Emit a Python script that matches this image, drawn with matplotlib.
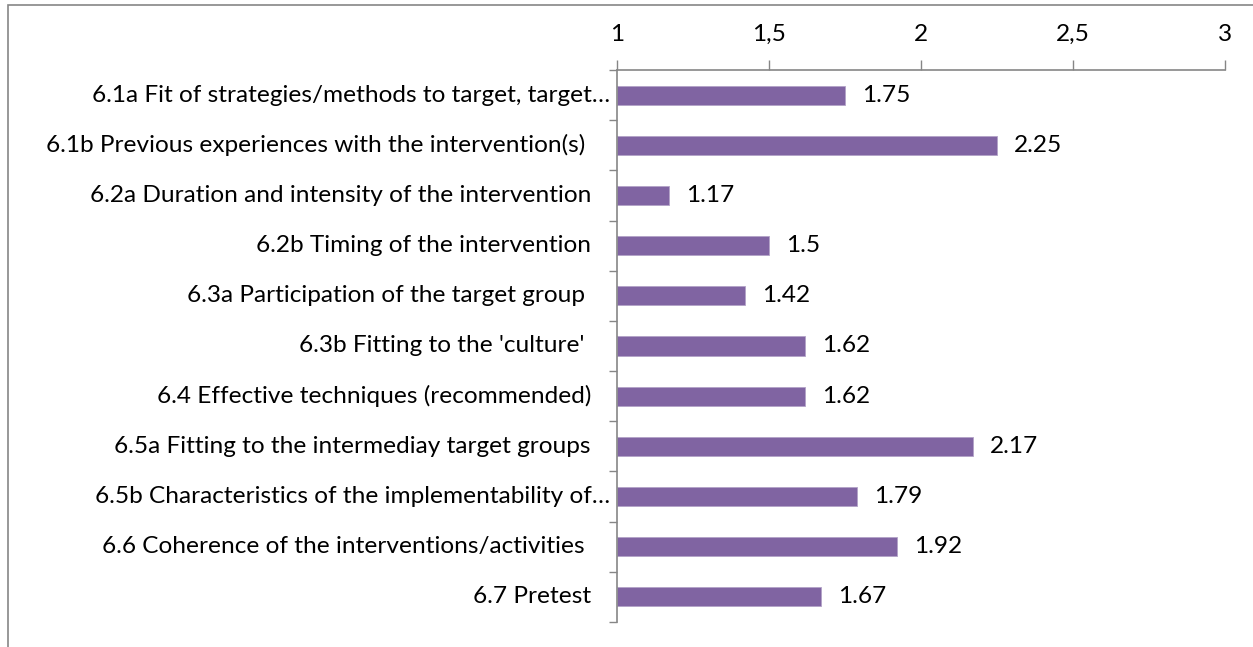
import matplotlib
matplotlib.use("Agg")
import matplotlib.pyplot as plt
from matplotlib.patches import Rectangle
from matplotlib.transforms import offset_copy

# data
categories = [
    "6.1a Fit of strategies/methods to target, target\u2026",
    "6.1b Previous experiences with the intervention(s) ",
    "6.2a Duration and intensity of the intervention",
    "6.2b Timing of the intervention",
    "6.3a Participation of the target group ",
    "6.3b Fitting to the 'culture' ",
    "6.4 Effective techniques (recommended)",
    "6.5a Fitting to the intermediay target groups",
    "6.5b Characteristics of the implementability of\u2026",
    "6.6 Coherence of the interventions/activities ",
    "6.7 Pretest",
]
scores = [1.75, 2.25, 1.17, 1.5, 1.42, 1.62, 1.62, 2.17, 1.79, 1.92, 1.67]
xticks = [1, 1.5, 2, 2.5, 3]
xtick_labels = ["1", "1,5", "2", "2,5", "3"]

W, H = 1253, 647
plt.rcParams['font.family'] = ['Lato', 'DejaVu Sans']
FS = 17.6
BAR = "#8064A2"
GRAY = "#868686"

fig = plt.figure(figsize=(W / 100, H / 100), dpi=100)
fig.patch.set_facecolor("white")

# outer chart frame (runs off the right and bottom edge)
fig.patches.append(Rectangle((8 / W, -0.1), 1.2, 1 - 5 / H + 0.1, transform=fig.transFigure,
                             fill=False, edgecolor=GRAY, linewidth=1.2))

ax = fig.add_axes([617 / W, 1 - 622 / H, (1225 - 617) / W, (622 - 70) / H])

n = len(categories)
ypos = list(range(n))
ax.barh(ypos, [s - 1 for s in scores], left=1, height=0.38, color=BAR, edgecolor="#B3A2C7", linewidth=0.6)
ax.set_xlim(1, 3)
ax.set_ylim(n - 0.5, -0.5)

ax.xaxis.tick_top()
ax.set_xticks(xticks)
ax.set_xticklabels(xtick_labels, fontsize=FS)
ax.tick_params(axis="x", direction="out", length=7, width=1, color=GRAY, pad=11)

ax.set_yticks([i - 0.5 for i in range(n + 1)])
ax.set_yticklabels([])
ax.tick_params(axis="y", direction="out", length=6, width=1, color=GRAY)

for side in ["right", "bottom"]:
    ax.spines[side].set_visible(False)
for side in ["left", "top"]:
    ax.spines[side].set_color(GRAY)
    ax.spines[side].set_linewidth(1.2)

# category labels
for i, lab in enumerate(categories):
    off = -7 if lab.endswith("\u2026") else -26
    tr = offset_copy(ax.transData, fig=fig, x=off * 0.72, y=0, units="points")
    ax.text(1, i, lab, transform=tr, ha="right", va="center", fontsize=FS, clip_on=False)

# value labels
for i, s in enumerate(scores):
    tr = offset_copy(ax.transData, fig=fig, x=17 * 0.72, y=0, units="points")
    ax.text(s, i, f"{s:g}", transform=tr, ha="left", va="center", fontsize=FS)

fig.savefig("out.png", dpi=100, facecolor="white")
